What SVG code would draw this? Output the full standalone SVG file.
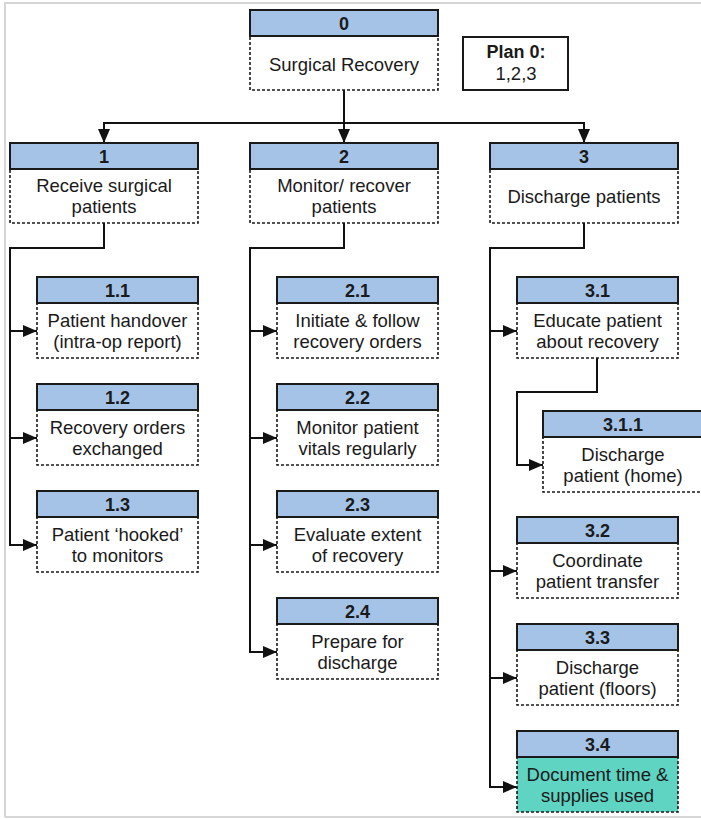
<svg xmlns="http://www.w3.org/2000/svg" width="701" height="819" viewBox="0 0 701 819">
  <style>
    .hdr { fill: #a4c3e6; stroke: #1a1a1a; stroke-width: 2; }
    .body { fill: #ffffff; stroke: #1a1a1a; stroke-width: 1.6; stroke-dasharray: 3 2; }
    .body.done { fill: #5fd4c2; }
    .num { font-family: "Liberation Sans", Arial, sans-serif; font-size: 18px; font-weight: bold; fill: #1a1a1a; text-anchor: middle; }
    .lbl { font-family: "Liberation Sans", Arial, sans-serif; font-size: 18.5px; fill: #1a1a1a; text-anchor: middle; }
    .wire { fill: none; stroke: #111111; stroke-width: 2; }
    .frame { fill: none; stroke: #d6d6d6; stroke-width: 2; }
    .plan { fill: #ffffff; stroke: #1a1a1a; stroke-width: 2; }
  </style>
  <defs>
    <marker id="arrow" viewBox="0 0 14 12" refX="14" refY="6" markerWidth="14" markerHeight="12" markerUnits="userSpaceOnUse" orient="auto">
      <path d="M0,0 L14,6 L0,12 Z" fill="#111111"/>
    </marker>
  </defs>

  <rect x="0" y="0" width="701" height="819" fill="#ffffff"/>
  <!-- outer frame -->
  <path class="frame" d="M5,817 L5,3 L701,3 M5,817 L701,817"/>

  <!-- connectors -->
  <g id="connectors">
    <path class="wire" d="M344,90 L344,143" marker-end="url(#arrow)"/>
    <path class="wire" d="M104,123 L584,123"/>
    <path class="wire" d="M104,122 L104,143" marker-end="url(#arrow)"/>
    <path class="wire" d="M584,122 L584,143" marker-end="url(#arrow)"/>

    <path class="wire" d="M104,223 L104,248 L10,248 L10,545"/>
    <path class="wire" d="M9,331 L37,331" marker-end="url(#arrow)"/>
    <path class="wire" d="M9,438 L37,438" marker-end="url(#arrow)"/>
    <path class="wire" d="M9,545 L37,545" marker-end="url(#arrow)"/>

    <path class="wire" d="M344,223 L344,248 L250,248 L250,652"/>
    <path class="wire" d="M249,331 L277,331" marker-end="url(#arrow)"/>
    <path class="wire" d="M249,438 L277,438" marker-end="url(#arrow)"/>
    <path class="wire" d="M249,545 L277,545" marker-end="url(#arrow)"/>
    <path class="wire" d="M249,652 L277,652" marker-end="url(#arrow)"/>

    <path class="wire" d="M584,223 L584,248 L490,248 L490,787"/>
    <path class="wire" d="M489,331 L517,331" marker-end="url(#arrow)"/>
    <path class="wire" d="M489,571 L517,571" marker-end="url(#arrow)"/>
    <path class="wire" d="M489,678 L517,678" marker-end="url(#arrow)"/>
    <path class="wire" d="M489,787 L517,787" marker-end="url(#arrow)"/>

    <path class="wire" d="M597,358 L597,392 L517,392 L517,465 L543,465" marker-end="url(#arrow)"/>
  </g>

  <!-- plan box -->
  <g id="plan0">
    <rect class="plan" x="463" y="37" width="105" height="53"/>
    <text class="num" x="516" y="58">Plan 0:</text>
    <text class="lbl" x="516" y="80">1,2,3</text>
  </g>

  <g id="n0">
    <rect class="body" x="250" y="36" width="188" height="54"/>
    <rect class="hdr" x="250" y="10" width="188" height="26"/>
    <text class="num" x="344" y="30">0</text>
    <text class="lbl" x="344" y="71">Surgical Recovery</text>
  </g>

  <g id="n1">
    <rect class="body" x="10" y="169" width="188" height="54"/>
    <rect class="hdr" x="10" y="143" width="188" height="26"/>
    <text class="num" x="104" y="163">1</text>
    <text class="lbl" x="104" y="192">Receive surgical</text>
    <text class="lbl" x="104" y="213">patients</text>
  </g>

  <g id="n2">
    <rect class="body" x="250" y="169" width="188" height="54"/>
    <rect class="hdr" x="250" y="143" width="188" height="26"/>
    <text class="num" x="344" y="163">2</text>
    <text class="lbl" x="344" y="192">Monitor/ recover</text>
    <text class="lbl" x="344" y="213">patients</text>
  </g>

  <g id="n3">
    <rect class="body" x="490" y="169" width="188" height="54"/>
    <rect class="hdr" x="490" y="143" width="188" height="26"/>
    <text class="num" x="584" y="163">3</text>
    <text class="lbl" x="584" y="203">Discharge patients</text>
  </g>

  <g id="n1_1">
    <rect class="body" x="37" y="303" width="161" height="55"/>
    <rect class="hdr" x="37" y="277" width="161" height="26"/>
    <text class="num" x="117.5" y="297">1.1</text>
    <text class="lbl" x="117.5" y="327">Patient handover</text>
    <text class="lbl" x="117.5" y="348">(intra-op report)</text>
  </g>

  <g id="n1_2">
    <rect class="body" x="37" y="410" width="161" height="55"/>
    <rect class="hdr" x="37" y="384" width="161" height="26"/>
    <text class="num" x="117.5" y="404">1.2</text>
    <text class="lbl" x="117.5" y="434">Recovery orders</text>
    <text class="lbl" x="117.5" y="455">exchanged</text>
  </g>

  <g id="n1_3">
    <rect class="body" x="37" y="517" width="161" height="55"/>
    <rect class="hdr" x="37" y="491" width="161" height="26"/>
    <text class="num" x="117.5" y="511">1.3</text>
    <text class="lbl" x="117.5" y="541">Patient ‘hooked’</text>
    <text class="lbl" x="117.5" y="562">to monitors</text>
  </g>

  <g id="n2_1">
    <rect class="body" x="277" y="303" width="161" height="55"/>
    <rect class="hdr" x="277" y="277" width="161" height="26"/>
    <text class="num" x="357.5" y="297">2.1</text>
    <text class="lbl" x="357.5" y="327">Initiate &amp; follow</text>
    <text class="lbl" x="357.5" y="348">recovery orders</text>
  </g>

  <g id="n2_2">
    <rect class="body" x="277" y="410" width="161" height="55"/>
    <rect class="hdr" x="277" y="384" width="161" height="26"/>
    <text class="num" x="357.5" y="404">2.2</text>
    <text class="lbl" x="357.5" y="434">Monitor patient</text>
    <text class="lbl" x="357.5" y="455">vitals regularly</text>
  </g>

  <g id="n2_3">
    <rect class="body" x="277" y="517" width="161" height="55"/>
    <rect class="hdr" x="277" y="491" width="161" height="26"/>
    <text class="num" x="357.5" y="511">2.3</text>
    <text class="lbl" x="357.5" y="541">Evaluate extent</text>
    <text class="lbl" x="357.5" y="562">of recovery</text>
  </g>

  <g id="n2_4">
    <rect class="body" x="277" y="624" width="161" height="55"/>
    <rect class="hdr" x="277" y="598" width="161" height="26"/>
    <text class="num" x="357.5" y="618">2.4</text>
    <text class="lbl" x="357.5" y="648">Prepare for</text>
    <text class="lbl" x="357.5" y="669">discharge</text>
  </g>

  <g id="n3_1">
    <rect class="body" x="517" y="303" width="161" height="55"/>
    <rect class="hdr" x="517" y="277" width="161" height="26"/>
    <text class="num" x="597.5" y="297">3.1</text>
    <text class="lbl" x="597.5" y="327">Educate patient</text>
    <text class="lbl" x="597.5" y="348">about recovery</text>
  </g>

  <g id="n3_1_1">
    <rect class="body" x="543" y="437" width="161" height="55"/>
    <rect class="hdr" x="543" y="411" width="161" height="26"/>
    <text class="num" x="623" y="431">3.1.1</text>
    <text class="lbl" x="623" y="461">Discharge</text>
    <text class="lbl" x="623" y="482">patient (home)</text>
  </g>

  <g id="n3_2">
    <rect class="body" x="517" y="543" width="161" height="55"/>
    <rect class="hdr" x="517" y="517" width="161" height="26"/>
    <text class="num" x="597.5" y="537">3.2</text>
    <text class="lbl" x="597.5" y="567">Coordinate</text>
    <text class="lbl" x="597.5" y="588">patient transfer</text>
  </g>

  <g id="n3_3">
    <rect class="body" x="517" y="650" width="161" height="55"/>
    <rect class="hdr" x="517" y="624" width="161" height="26"/>
    <text class="num" x="597.5" y="644">3.3</text>
    <text class="lbl" x="597.5" y="674">Discharge</text>
    <text class="lbl" x="597.5" y="695">patient (floors)</text>
  </g>

  <g id="n3_4">
    <rect class="body done" x="517" y="757" width="161" height="55"/>
    <rect class="hdr" x="517" y="731" width="161" height="26"/>
    <text class="num" x="597.5" y="751">3.4</text>
    <text class="lbl" x="597.5" y="781">Document time &amp;</text>
    <text class="lbl" x="597.5" y="802">supplies used</text>
  </g>
</svg>
